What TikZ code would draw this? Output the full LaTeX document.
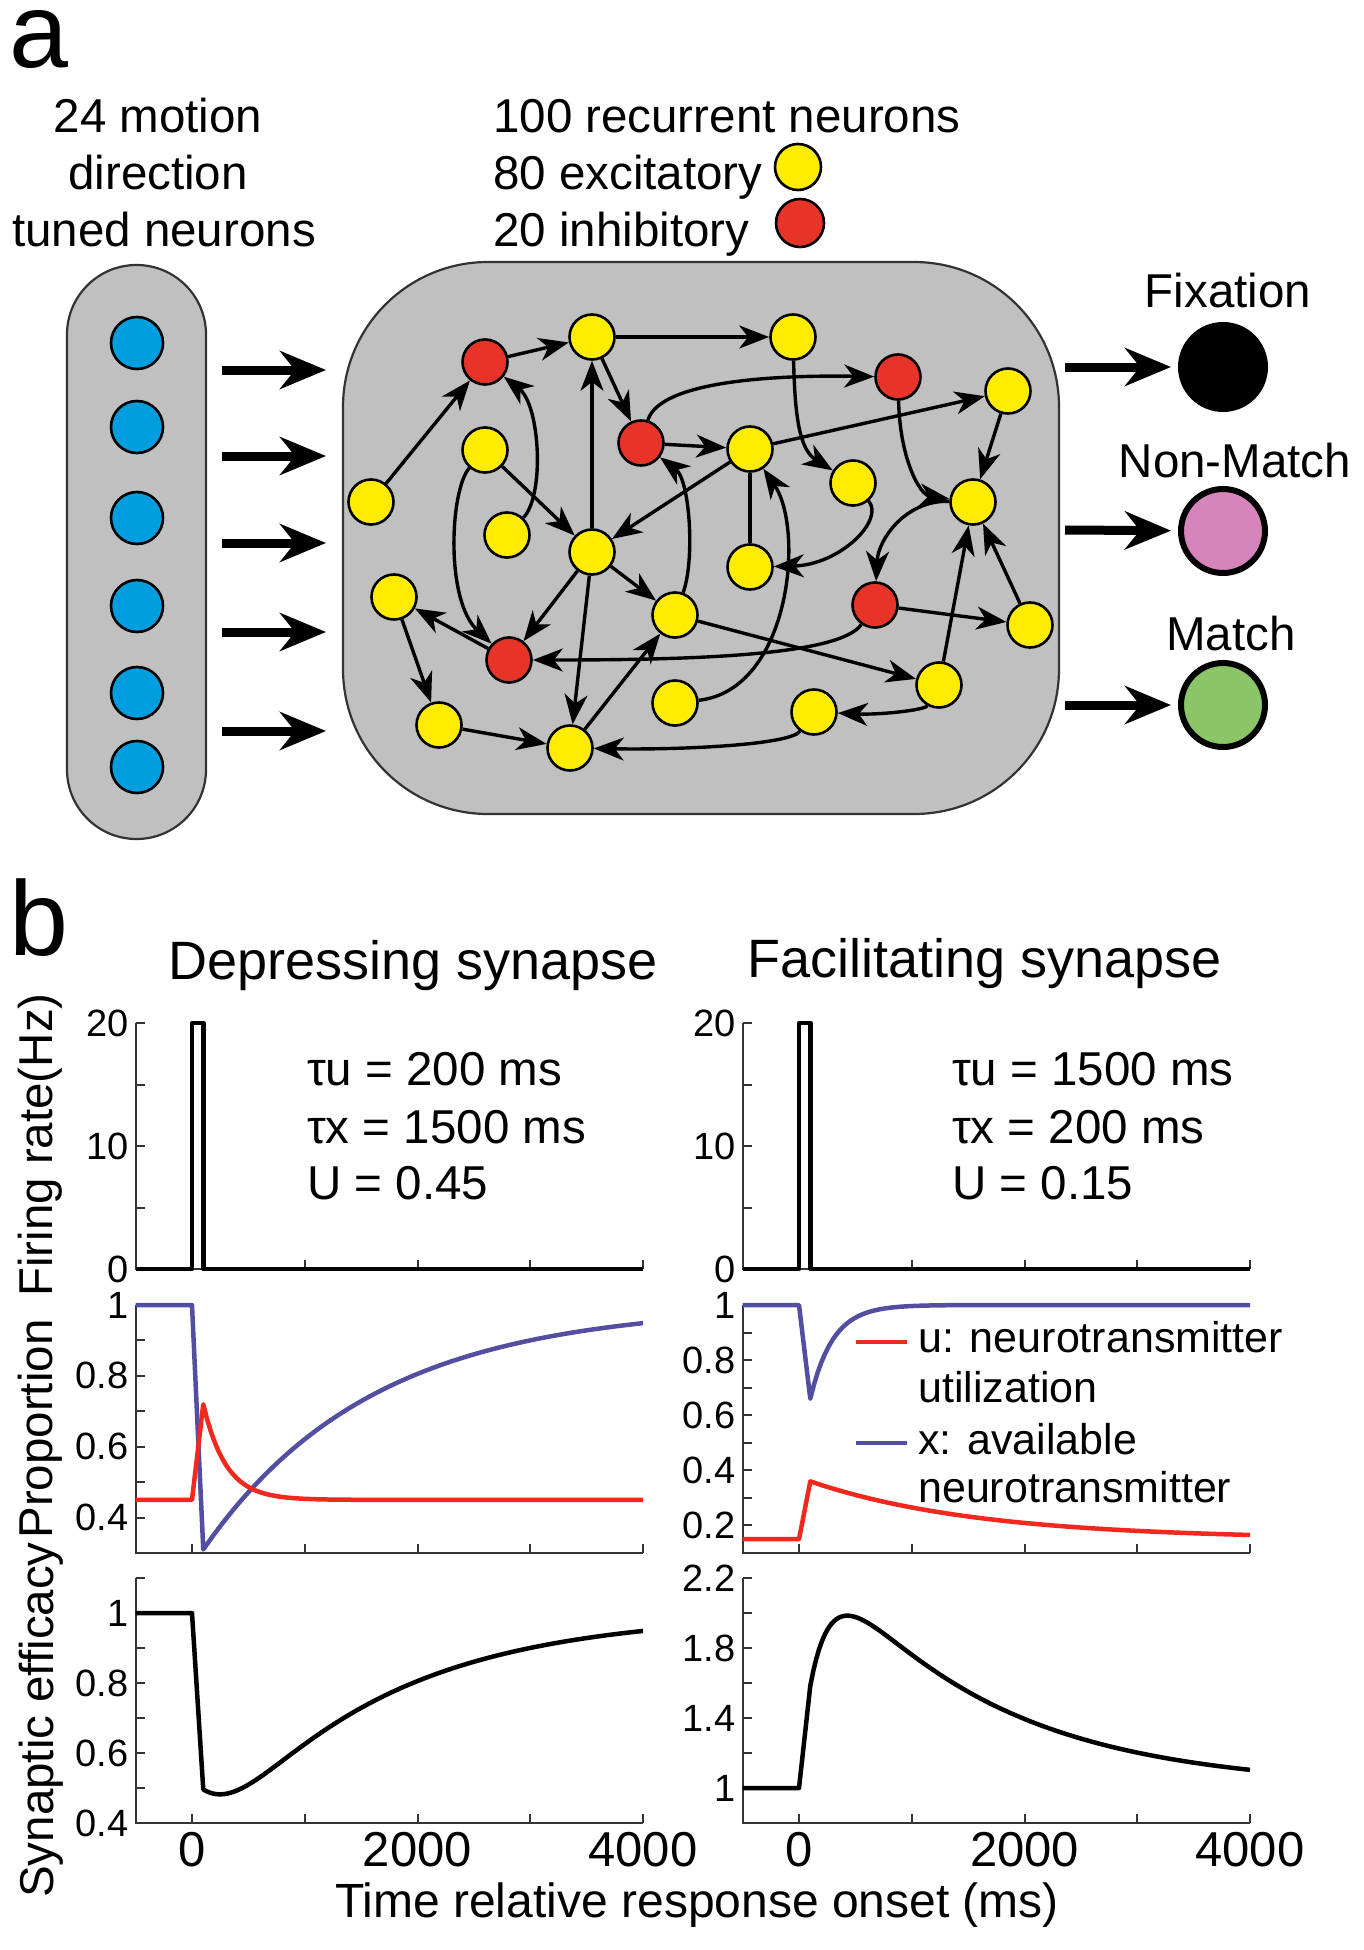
\documentclass[tikz,border=0pt]{standalone}
\usepackage{fontspec}
\setmainfont{Liberation Sans}
\usetikzlibrary{positioning,arrows.meta,calc}

\definecolor{boxgray}{RGB}{192,192,192}
\definecolor{excyellow}{RGB}{255,236,0}
\definecolor{inhred}{RGB}{232,52,40}
\definecolor{inpblue}{RGB}{0,158,222}
\definecolor{nmpink}{RGB}{214,132,188}
\definecolor{mgreen}{RGB}{140,196,104}
\definecolor{xblue}{RGB}{82,78,162}
\definecolor{ured}{RGB}{240,40,30}

\tikzset{
  tag/.style={font=\fontsize{106}{116}\selectfont, inner sep=0pt, anchor=base west, text height=58pt},
  lbl/.style={font=\fontsize{47.5}{56}\selectfont, inner sep=0pt},
  ttl/.style={font=\fontsize{54}{62}\selectfont, inner sep=0pt, anchor=base},
  leg/.style={font=\fontsize{43}{50}\selectfont, inner sep=0pt, anchor=base west},
  ytick/.style={font=\fontsize{38}{44}\selectfont, inner sep=0pt, anchor=east, xshift=-7pt},
  xtick/.style={font=\fontsize{49}{56}\selectfont, inner sep=0pt, anchor=north, yshift=-9pt},
  pool/.style={draw=black!80, line width=2.2pt, fill=boxgray},
  exc/.style={circle, draw, line width=2.6pt, fill=excyellow, minimum size=45pt, inner sep=0pt},
  inh/.style={exc, fill=inhred},
  inp/.style={circle, draw, line width=2.6pt, fill=inpblue, minimum size=52pt, inner sep=0pt},
  outn/.style={circle, draw, line width=6pt, minimum size=84pt, inner sep=0pt},
  syn/.style={line width=3.4pt, -{Stealth[length=30pt, width=23pt, inset=9pt]}},
  bigarrow/.style={line width=9pt, -{Stealth[length=46pt, width=38pt, inset=15pt]}},
  axisline/.style={line width=2pt, black!80},
  trace/.style={line width=4.5pt, line join=round},
}

\begin{document}
\begin{tikzpicture}[x=1pt, y=-1pt]
\useasboundingbox (0,0) rectangle (1363,1950);

% ---------- panel a ----------
\node[tag] (la) at (9,68) {a};

\node[lbl, anchor=base] (in1) at (158,133) {24 motion};
\node[lbl, anchor=base] (in2) at (158,190) {direction};
\node[lbl, anchor=base] (in3) at (164,247) {tuned neurons};

\node[pool, minimum width=139pt, minimum height=574pt, rounded corners=69.5pt] (inpool) at (136.5,552) {};
\foreach \y [count=\i] in {343,427,518,606,693,767}
  \node[inp] (b\i) at (137,\y) {};

\foreach \y [count=\i] in {370,456,543,632,731} {
  \coordinate (is\i) at (222,\y);
  \coordinate (ie\i) at (326,\y);
  \draw[bigarrow] (is\i) -- (ie\i);
}

\node[lbl, anchor=base west] (rc1) at (493,133) {100 recurrent neurons};
\node[lbl, anchor=base west] (rc2) at (493,190) {80 excitatory};
\node[lbl, anchor=base west] (rc3) at (493,247) {20 inhibitory};
\node[exc, minimum size=46pt] (kexc) at (798,167) {};
\node[inh, minimum size=48pt] (kinh) at (800,223) {};

\node[pool, minimum width=716pt, minimum height=552pt, rounded corners=145pt] (net) at (701,538) {};

% recurrent neurons
\node[exc] (n1)  at (371,502) {};
\node[inh] (n2)  at (485,362) {};
\node[exc] (n3)  at (592,337) {};
\node[exc] (n4)  at (793,337) {};
\node[inh] (n5)  at (898,377) {};
\node[exc] (n6)  at (1008,391) {};
\node[exc] (n7)  at (485,450) {};
\node[exc] (n8)  at (507,535) {};
\node[inh] (n9)  at (641,443) {};
\node[exc] (n10) at (750,449) {};
\node[exc] (n11) at (853,483) {};
\node[exc] (n12) at (973,502) {};
\node[exc] (n13) at (592,552) {};
\node[exc] (n14) at (750,567) {};
\node[exc] (n15) at (394,597) {};
\node[inh] (n16) at (509,660) {};
\node[exc] (n17) at (675,615) {};
\node[inh] (n18) at (875,605) {};
\node[exc] (n19) at (1030,625) {};
\node[exc] (n20) at (939,685) {};
\node[exc] (n21) at (814,712) {};
\node[exc] (n22) at (675,703) {};
\node[exc] (n23) at (439,725) {};
\node[exc] (n24) at (570,748) {};

% straight synapses
\foreach \a/\b in {n1/n2, n2/n3, n3/n4, n3/n9, n13/n3, n7/n13, n10/n13, n9/n10,
                   n10/n6, n6/n12, n20/n12, n19/n12, n18/n19, n16/n15, n13/n16,
                   n15/n23, n23/n24, n13/n24, n24/n17, n13/n17, n17/n20}
  \draw[syn] (\a) -- (\b);
\draw[line width=3.4pt] (n14) -- (n10);

% curved synapses
\draw[syn] (n8) .. controls (545,495) and (540,405) .. (n2);
\draw[syn] (n7) .. controls (450,490) and (445,600) .. (n16);
\draw[syn] (n9) .. controls (660,380) and (780,375) .. (n5);
\draw[syn] (n17) .. controls (695,560) and (690,480) .. (n9);
\draw[syn] (n4) .. controls (795,420) and (800,450) .. (n11);
\draw[syn] (n11) .. controls (885,520) and (840,565) .. (n14);
\draw[syn] (n22) .. controls (790,690) and (805,530) .. (n10);
\draw[syn] (n5) .. controls (900,460) and (920,495) .. (n12);
\draw[syn] (n12) .. controls (905,500) and (878,540) .. (n18);
\draw[syn] (n18) .. controls (840,655) and (700,660) .. (n16);
\draw[syn] (n21) .. controls (790,745) and (680,750) .. (n24);
\draw[syn] (n20) .. controls (925,710) and (880,715) .. (n21);

% outputs
\node[outn, fill=black] (fix) at (1223,367) {};
\node[outn, fill=nmpink] (nm) at (1223,531) {};
\node[outn, fill=mgreen] (mt) at (1223,705) {};
\node[lbl, anchor=base] (lfix) at (1228,308) {Fixation};
\node[lbl, anchor=base] (lnm) at (1235,477) {Non-Match};
\node[lbl, anchor=base] (lmt) at (1231,650) {Match};
\coordinate (os1) at (1065,367);
\coordinate (os2) at (1065,530);
\coordinate (os3) at (1065,705);
\draw[bigarrow, shorten >=7pt] (os1) -- (fix);
\draw[bigarrow, shorten >=7pt] (os2) -- (nm);
\draw[bigarrow, shorten >=7pt] (os3) -- (mt);

% ---------- panel b ----------
\node[tag] (lb) at (9,955) {b};
\node[ttl] (tdep) at (413,979) {Depressing synapse};
\node[ttl] (tfac) at (985,977) {Facilitating synapse};

\node[lbl, anchor=base west] (pd1) at (307,1085) {τu = 200 ms};
\node[lbl, anchor=base west] (pd2) at (307,1143) {τx = 1500 ms};
\node[lbl, anchor=base west] (pd3) at (307,1199) {U = 0.45};
\node[lbl, anchor=base west] (pf1) at (952,1085) {τu = 1500 ms};
\node[lbl, anchor=base west] (pf2) at (952,1143) {τx = 200 ms};
\node[lbl, anchor=base west] (pf3) at (952,1199) {U = 0.15};

\node[lbl, rotate=90] (yfr) at (40,1145) {Firing rate(Hz)};
\node[lbl, rotate=90] (ypr) at (40,1429) {Proportion};
\node[lbl, rotate=90] (yse) at (41,1720) {Synaptic efficacy};
\node[lbl, anchor=base, font=\fontsize{48}{56}\selectfont] (xlab) at (697,1917) {Time relative response onset (ms)};

% depressing: firing rate
\begin{scope}[shift={(192,1269)}, x=0.11275pt, y=12.3pt]
  \draw[axisline] (-500,20) -- (-500,0) -- (4000,0);
  \foreach \t in {0,1000,...,4000} \draw[axisline] (\t,0) -- ++(0pt,9pt);
  \foreach \v in {5,10,15,20} \draw[axisline] (-500,\v) -- ++(9pt,0pt);
  \foreach \v [count=\i] in {0,10,20} \node[ytick] (dfr\i) at (-500,\v) {\v};
  \draw[trace] (-500,0) -- (0,0) -- (0,20) -- (100,20) -- (100,0) -- (4000,0);
\end{scope}

% depressing: u and x
\begin{scope}[shift={(192,1659.3)}, x=0.11275pt, y=354.3pt]
  \draw[axisline] (-500,1) -- (-500,0.3) -- (4000,0.3);
  \foreach \t in {0,1000,...,4000} \draw[axisline] (\t,0.3) -- ++(0pt,9pt);
  \foreach \v in {0.4,0.5,0.6,0.7,0.8,0.9} \draw[axisline] (-500,\v) -- ++(9pt,0pt);
  \foreach \v [count=\i] in {1,0.8,0.6,0.4} \node[ytick] (dpr\i) at (-500,\v) {\v};
  \draw[trace, xblue] (-500,1) -- (0,1) -- (100,0.31) -- plot[domain=100:4000, samples=90] (\x,{1-0.69*exp(-(\x-100)/1500)});
  \draw[trace, ured] (-500,0.45) -- (0,0.45) -- (100,0.72) -- plot[domain=100:4000, samples=120] (\x,{0.45+0.27*exp(-(\x-100)/200)});
\end{scope}

% depressing: efficacy
\begin{scope}[shift={(192,1963)}, x=0.11275pt, y=350pt]
  \draw[axisline] (-500,1.1) -- (-500,0.4) -- (4000,0.4);
  \foreach \t in {0,1000,...,4000} \draw[axisline] (\t,0.4) -- ++(0pt,9pt);
  \foreach \v in {0.5,0.6,0.7,0.8,0.9,1,1.1} \draw[axisline] (-500,\v) -- ++(9pt,0pt);
  \foreach \v [count=\i] in {1,0.8,0.6,0.4} \node[ytick] (dse\i) at (-500,\v) {\v};
  \foreach \t [count=\i] in {0,2000,4000} \node[xtick] (dxt\i) at (\t,0.4) {\t};
  \draw[trace] (-500,1) -- (0,1) -- (100,0.496) -- plot[domain=100:4000, samples=150] (\x,{(0.45+0.27*exp(-(\x-100)/200))*(1-0.69*exp(-(\x-100)/1500))/0.45});
\end{scope}

% facilitating: firing rate
\begin{scope}[shift={(799,1269)}, x=0.11275pt, y=12.3pt]
  \draw[axisline] (-500,20) -- (-500,0) -- (4000,0);
  \foreach \t in {0,1000,...,4000} \draw[axisline] (\t,0) -- ++(0pt,9pt);
  \foreach \v in {5,10,15,20} \draw[axisline] (-500,\v) -- ++(9pt,0pt);
  \foreach \v [count=\i] in {0,10,20} \node[ytick] (ffr\i) at (-500,\v) {\v};
  \draw[trace] (-500,0) -- (0,0) -- (0,20) -- (100,20) -- (100,0) -- (4000,0);
\end{scope}

% facilitating: u and x
\begin{scope}[shift={(799,1580.56)}, x=0.11275pt, y=275.56pt]
  \draw[axisline] (-500,1) -- (-500,0.1) -- (4000,0.1);
  \foreach \t in {0,1000,...,4000} \draw[axisline] (\t,0.1) -- ++(0pt,9pt);
  \foreach \v in {0.2,0.3,0.4,0.5,0.6,0.7,0.8,0.9} \draw[axisline] (-500,\v) -- ++(9pt,0pt);
  \foreach \v [count=\i] in {1,0.8,0.6,0.4,0.2} \node[ytick] (fpr\i) at (-500,\v) {\v};
  \draw[trace, xblue] (-500,1) -- (0,1) -- (100,0.66) -- plot[domain=100:4000, samples=120] (\x,{1-0.34*exp(-(\x-100)/200)});
  \draw[trace, ured] (-500,0.15) -- (0,0.15) -- (100,0.36) -- plot[domain=100:4000, samples=90] (\x,{0.15+0.21*exp(-(\x-100)/1500)});
\end{scope}

% legend
\draw[trace, ured] (856,1342) -- (907,1342);
\draw[trace, xblue] (856,1443) -- (907,1443);
\node[leg] (lu1) at (918,1352) {u: neurotransmitter};
\node[leg] (lu2) at (918,1402) {utilization};
\node[leg] (lx1) at (918,1454) {x: available};
\node[leg] (lx2) at (918,1502) {neurotransmitter};

% facilitating: efficacy
\begin{scope}[shift={(799,1963)}, x=0.11275pt, y=175pt]
  \draw[axisline] (-500,2.2) -- (-500,0.8) -- (4000,0.8);
  \foreach \t in {0,1000,...,4000} \draw[axisline] (\t,0.8) -- ++(0pt,9pt);
  \foreach \v in {1,1.2,1.4,1.6,1.8,2,2.2} \draw[axisline] (-500,\v) -- ++(9pt,0pt);
  \foreach \v [count=\i] in {1,1.4,1.8,2.2} \node[ytick] (fse\i) at (-500,\v) {\v};
  \foreach \t [count=\i] in {0,2000,4000} \node[xtick] (fxt\i) at (\t,0.8) {\t};
  \draw[trace] (-500,1) -- (0,1) -- (100,1.584) -- plot[domain=100:4000, samples=150] (\x,{(0.15+0.21*exp(-(\x-100)/1500))*(1-0.34*exp(-(\x-100)/200))/0.15});
\end{scope}

\end{tikzpicture}
\end{document}
